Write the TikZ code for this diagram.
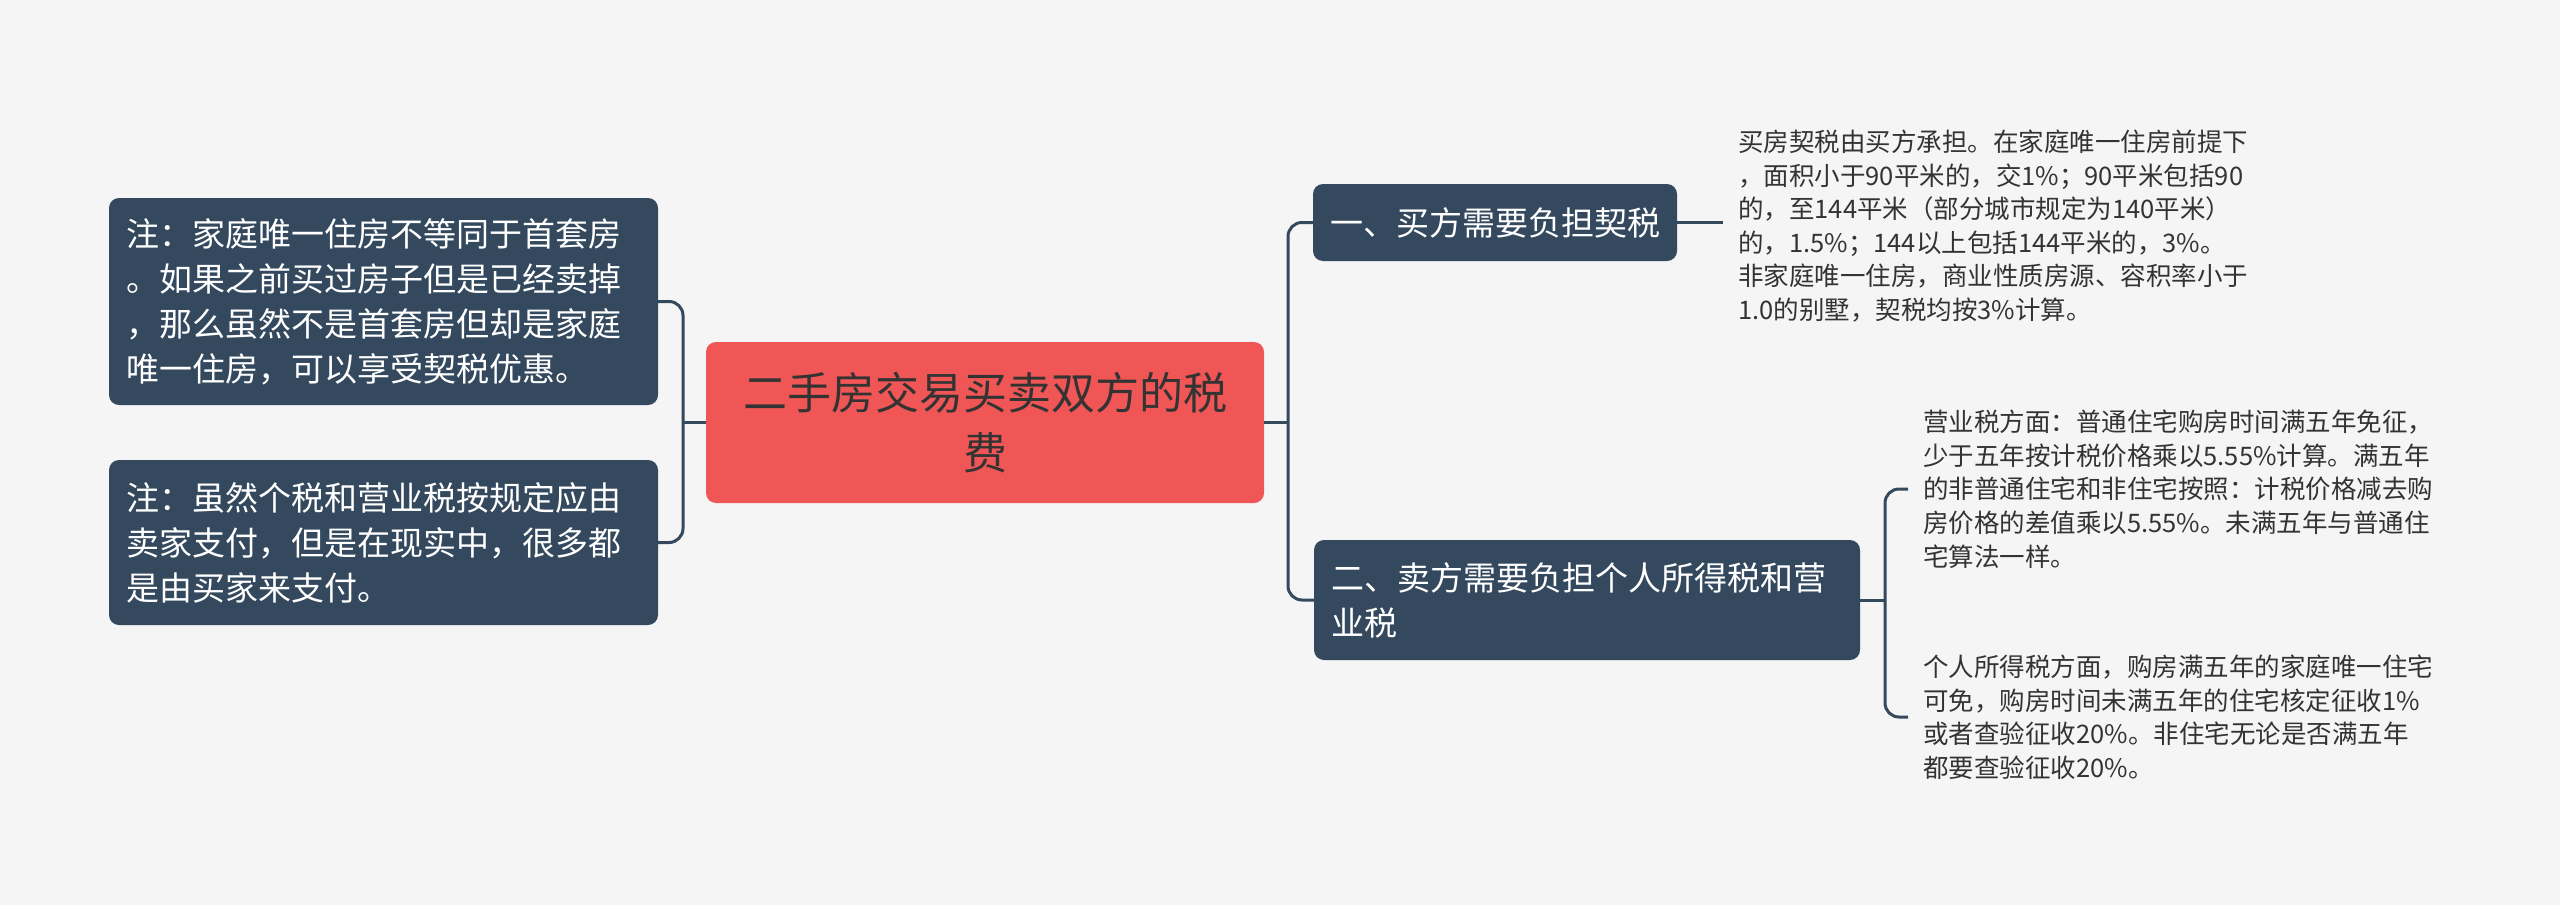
\documentclass[tikz,border=0pt]{standalone}
\usepackage{fontspec}
\setmainfont{Noto Sans CJK SC}
\definecolor{bg}{HTML}{F5F5F5}
\definecolor{dark}{HTML}{34495E}
\definecolor{redbox}{HTML}{F05656}
\definecolor{txt}{HTML}{333333}
\begin{document}
\begin{tikzpicture}[x=1pt,y=-1pt,
  box/.style={fill=dark, rounded corners=10pt, text=white, align=left, inner xsep=17pt, inner ysep=0pt,
    font=\fontsize{33}{45}\selectfont},
  leaf/.style={anchor=west, text=txt, align=left, inner xsep=15pt, inner ysep=0pt,
    font=\fontsize{25.5}{33.6}\selectfont},
  conn/.style={draw=dark, line width=3pt, rounded corners=14pt}]
\fill[bg] (0,0) rectangle (2560,905);
\useasboundingbox (0,0) rectangle (2560,905);

\node[fill=redbox, rounded corners=10pt, text=txt, align=center, minimum width=558pt, minimum height=161pt,
  inner sep=0pt, font=\fontsize{44}{60}\selectfont] (c) at (985,422.5) {二手房交易买卖双方的税\\费};

\node[box, text width=515pt, minimum height=207pt] (l1) at (383.5,301.5)
  {注：家庭唯一住房不等同于首套房\\。如果之前买过房子但是已经卖掉\\，那么虽然不是首套房但却是家庭\\唯一住房，可以享受契税优惠。};
\node[box, text width=515pt, minimum height=165pt] (l2) at (383.5,542.5)
  {注：虽然个税和营业税按规定应由\\卖家支付，但是在现实中，很多都\\是由买家来支付。};

\node[box, text width=330pt, minimum height=77pt] (r1) at (1495,222.5) {一、买方需要负担契税};
\node[box, text width=512pt, minimum height=120pt] (r2) at (1587,600)
  {二、卖方需要负担个人所得税和营\\业税};

\node[leaf] (f1) at (1723,226)
  {买房契税由买方承担。在家庭唯一住房前提下\\，面积小于90平米的，交1\%；90平米包括90\\的，至144平米（部分城市规定为140平米）\\的，1.5\%；144以上包括144平米的，3\%。\\非家庭唯一住房，商业性质房源、容积率小于\\1.0的别墅，契税均按3\%计算。};
\node[leaf] (f2) at (1908,489)
  {营业税方面：普通住宅购房时间满五年免征，\\少于五年按计税价格乘以5.55\%计算。满五年\\的非普通住宅和非住宅按照：计税价格减去购\\房价格的差值乘以5.55\%。未满五年与普通住\\宅算法一样。};
\node[leaf] (f3) at (1908,717)
  {个人所得税方面，购房满五年的家庭唯一住宅\\可免，购房时间未满五年的住宅核定征收1\%\\或者查验征收20\%。非住宅无论是否满五年\\都要查验征收20\%。};

\coordinate (jr) at (1288,422.5);
\coordinate (jl) at (683,422.5);
\coordinate (j2) at (1885,600);

\draw[conn] (c.east) -- (jr);
\draw[conn] (r1.west) -- (jr |- r1.west) -- (jr |- r2.west) -- (r2.west);
\draw[conn] (c.west) -- (jl);
\draw[conn] (l1.east) -- (jl |- l1.east) -- (jl |- l2.east) -- (l2.east);
\draw[conn] (r1.east) -- (r1.east -| f1.west);
\draw[conn] (r2.east) -- (j2);
\draw[conn] (f2.west) -- (j2 |- f2.west) -- (j2 |- f3.west) -- (f3.west);
\end{tikzpicture}
\end{document}
